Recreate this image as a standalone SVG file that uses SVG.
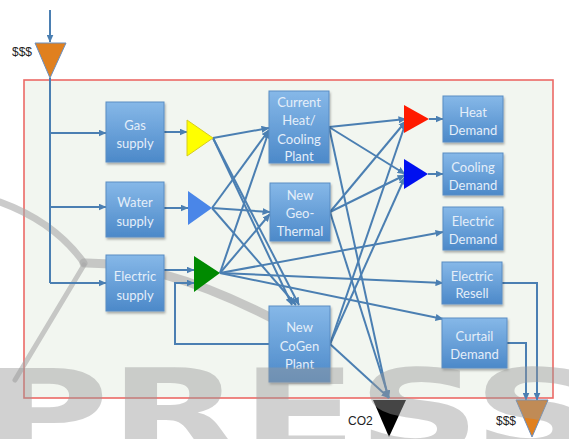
<svg xmlns="http://www.w3.org/2000/svg" width="569" height="439" viewBox="0 0 569 439">
<style>
.box{fill:url(#bg);stroke:#5a8dc4;stroke-width:1;filter:url(#sh)}
.lbl{font-family:Lato,"Liberation Sans",sans-serif;font-size:13px;fill:#e4eef9;text-anchor:middle}
.blk{font-family:"Liberation Sans",Arial,sans-serif;font-size:12px;fill:#222}
.c{fill:none;stroke:#4b7fb2;stroke-width:2;marker-end:url(#ah)}
.n{fill:none;stroke:#4b7fb2;stroke-width:2}
</style>
<defs>
<linearGradient id="bg" x1="0" y1="0" x2="0" y2="1">
<stop offset="0" stop-color="#86b8e8"/>
<stop offset="1" stop-color="#4c89c9"/>
</linearGradient>
<filter id="sh" x="-10%" y="-10%" width="130%" height="130%">
<feDropShadow dx="1" dy="2" stdDeviation="1.2" flood-color="#000" flood-opacity="0.3"/>
</filter>
<marker id="ah" viewBox="0 0 8 7" refX="7.5" refY="3.5" markerWidth="8" markerHeight="7" markerUnits="userSpaceOnUse" orient="auto">
<path d="M0,0 L8,3.5 L0,7 z" fill="#4b7fb2"/>
</marker>
</defs>
<rect width="569" height="439" fill="#fff"/>
<rect x="24" y="80" width="529" height="318" fill="#f2f6f0" stroke="#ec6a66" stroke-width="1.6"/>

<g id="watermark-arc" fill="none" stroke="#a8a8a8" stroke-opacity="0.6" stroke-linecap="round">
<path d="M0,202 Q55,222 84,263" stroke-width="7"/>
<path d="M84,263 Q180,262 320,345" stroke-width="9"/>
<path d="M84,265 L15,380" stroke-width="5"/>
</g>

<g id="connectors">
<path class="c" d="M50,10 V42"/>
<path class="n" d="M50,78 V283"/>
<path class="c" d="M50,133 H106"/>
<path class="c" d="M50,207 H106"/>
<path class="c" d="M50,283 H106"/>
<path class="c" d="M164,132 H187"/>
<path class="c" d="M164,208 H188"/>
<path class="c" d="M164,270 H194"/>
<path class="c" d="M270,344 H175 V283 H194"/>
<path class="c" d="M213,138 L269,128"/>
<path class="c" d="M213,138 L292,305"/>
<path class="c" d="M213,138 L299,305"/>
<path class="c" d="M212,208 L269,130"/>
<path class="c" d="M212,208 L270,212"/>
<path class="c" d="M212,208 L296,305"/>
<path class="c" d="M220,273 L269,131"/>
<path class="c" d="M220,273 L270,214"/>
<path class="c" d="M220,273 L443,232"/>
<path class="c" d="M220,273 L443,283"/>
<path class="c" d="M220,273 L443,319"/>
<path class="c" d="M329,127 L406,119"/>
<path class="c" d="M329,127 L405,174"/>
<path class="c" d="M329,127 L388,398"/>
<path class="c" d="M330,212 L406,121"/>
<path class="c" d="M330,212 L405,175"/>
<path class="c" d="M330,212 L389,398"/>
<path class="c" d="M330,344 L406,122"/>
<path class="c" d="M330,344 L405,177"/>
<path class="c" d="M330,344 L389,398"/>
<path class="c" d="M429,119 H443"/>
<path class="c" d="M428,174 H443"/>
<path class="c" d="M502,283 H537 V400"/>
<path class="c" d="M507,343 H526 V400"/>
</g>

<g id="src-money">
<polygon points="35,43 66,43 50,78" fill="#e0801f" stroke="#6b8fbf" stroke-width="1"/>
<text class="blk" x="12" y="56">$$$</text>
</g>
<g id="gas-supply"><rect class="box" x="106" y="102" width="58" height="60"/><text class="lbl" x="135" y="130">Gas</text><text class="lbl" x="135" y="148">supply</text></g>
<g id="water-supply"><rect class="box" x="106" y="182" width="58" height="55"/><text class="lbl" x="135" y="207">Water</text><text class="lbl" x="135" y="226">supply</text></g>
<g id="electric-supply"><rect class="box" x="106" y="255" width="58" height="56"/><text class="lbl" x="135" y="281">Electric</text><text class="lbl" x="135" y="300">supply</text></g>

<g id="gas-node"><polygon points="187,120 187,156 213,138" fill="#ffff00" stroke="#d6cc20" stroke-width="1"/></g>
<g id="water-node"><polygon points="188,191 188,225 212,208" fill="#4a86e8"/></g>
<g id="electric-node"><polygon points="194,256 194,292 220,273" fill="#008a00"/></g>

<g id="current-plant"><rect class="box" x="269" y="91" width="60" height="72"/><text class="lbl" x="299" y="107">Current</text><text class="lbl" x="299" y="125">Heat/</text><text class="lbl" x="299" y="144">Cooling</text><text class="lbl" x="299" y="161">Plant</text></g>
<g id="geo-thermal"><rect class="box" x="270" y="183" width="60" height="58"/><text class="lbl" x="300" y="200">New</text><text class="lbl" x="300" y="218">Geo-</text><text class="lbl" x="300" y="236">Thermal</text></g>
<g id="cogen-plant"><rect class="box" x="269" y="306" width="61" height="76"/><text class="lbl" x="299.5" y="332">New</text><text class="lbl" x="299.5" y="351">CoGen</text><text class="lbl" x="299.5" y="369">Plant</text></g>

<g id="heat-node"><polygon points="404,105 404,133 429,119" fill="#ff1a00"/></g>
<g id="cool-node"><polygon points="404,159 404,189 428,174" fill="#0010f0"/></g>

<g id="heat-demand"><rect class="box" x="443" y="96" width="60" height="46"/><text class="lbl" x="473" y="117">Heat</text><text class="lbl" x="473" y="135">Demand</text></g>
<g id="cooling-demand"><rect class="box" x="443" y="153" width="60" height="42"/><text class="lbl" x="473" y="172">Cooling</text><text class="lbl" x="473" y="190">Demand</text></g>
<g id="electric-demand"><rect class="box" x="443" y="207" width="60" height="43"/><text class="lbl" x="473" y="226">Electric</text><text class="lbl" x="473" y="244">Demand</text></g>
<g id="electric-resell"><rect class="box" x="442" y="262" width="60" height="42"/><text class="lbl" x="472" y="281">Electric</text><text class="lbl" x="472" y="298">Resell</text></g>
<g id="curtail-demand"><rect class="box" x="442" y="318" width="65" height="50"/><text class="lbl" x="474.5" y="341">Curtail</text><text class="lbl" x="474.5" y="359">Demand</text></g>

<g id="co2"><polygon points="373,400 406,400 389,437" fill="#000"/><text class="blk" x="348" y="425">CO2</text></g>
<g id="sink-money"><polygon points="516,400 548,400 532,437" fill="#e0801f" stroke="#6b8fbf" stroke-width="1"/><text class="blk" x="496" y="425">$$$</text></g>

<text x="-16" y="452" font-family="DejaVu Sans" font-weight="bold" font-size="115" textLength="612" lengthAdjust="spacingAndGlyphs" fill="#9a9a9a" fill-opacity="0.45">PRESS</text>
</svg>
